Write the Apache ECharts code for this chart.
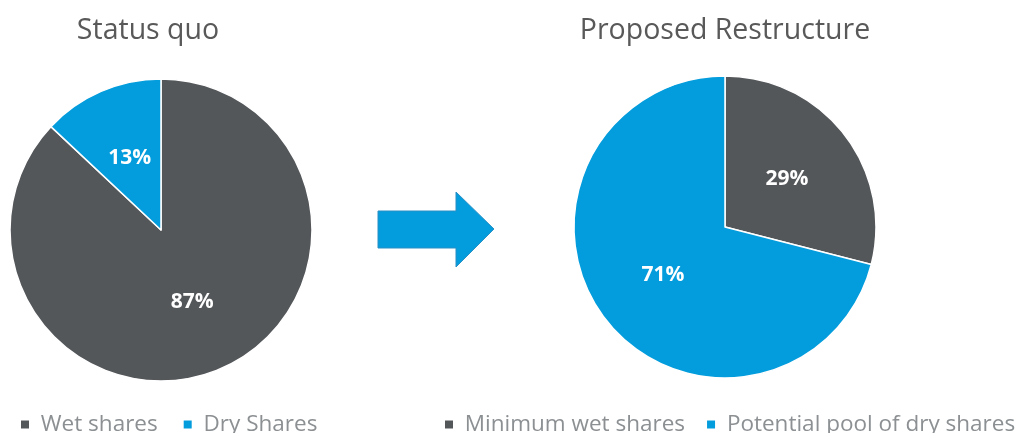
<!DOCTYPE html>
<html>
<head>
<meta charset="utf-8">
<script src="https://cdn.jsdelivr.net/npm/echarts@6/dist/echarts.min.js"></script>
<style>html,body{margin:0;padding:0;background:#fff}#c{width:1019px;height:433px}</style>
</head>
<body>
<div id="c"></div>
<script>
const leftTitle = 'Status quo';
const rightTitle = 'Proposed Restructure';
const leftCategories = ['Wet shares', 'Dry Shares'];
const leftValues = [87, 13];
const rightCategories = ['Minimum wet shares', 'Potential pool of dry shares'];
const rightValues = [29, 71];
const colors = ['#54575a', '#039cdc'];

const FONT = '"Open Sans", "Noto Sans", sans-serif';
const chart = echarts.init(document.getElementById('c'), null, {renderer: 'canvas'});

function pieData(cats, vals) {
  return cats.map((c, i) => ({name: c, value: vals[i], itemStyle: {color: colors[i]}}));
}
const labelStyle = {
  show: true, position: 'inside', formatter: '{c}%',
  color: '#ffffff', fontWeight: 'bold', fontSize: 21, fontFamily: FONT
};
const legendText = {color: '#8c9093', fontSize: 22.5, fontFamily: FONT};

chart.setOption({
  animation: false,
  title: [
    {text: leftTitle, left: 148, top: 16, padding: 0, textAlign: 'center',
     textStyle: {color: '#595959', fontSize: 28.5, fontWeight: 'normal', fontFamily: FONT}},
    {text: rightTitle, left: 725, top: 16, padding: 0, textAlign: 'center',
     textStyle: {color: '#595959', fontSize: 28.5, fontWeight: 'normal', fontFamily: FONT}}
  ],
  legend: [
    {data: leftCategories, left: 19, top: 413, padding: 0, icon: 'rect', itemWidth: 10, itemHeight: 10,
     itemGap: 24, textStyle: legendText, selectedMode: false, formatter: ' {name}'},
    {data: rightCategories, left: 443, top: 413, padding: 0, icon: 'rect', itemWidth: 10, itemHeight: 10,
     itemGap: 20, textStyle: legendText, selectedMode: false, formatter: ' {name}'}
  ],
  series: [
    {type: 'pie', center: [161, 230], radius: [0, 151], startAngle: 90, clockwise: true,
     data: pieData(leftCategories, leftValues), label: labelStyle, labelLine: {show: false},
     itemStyle: {borderColor: '#ffffff', borderWidth: 1.5}, emphasis: {disabled: true}},
    {type: 'pie', center: [725, 227], radius: [0, 151], startAngle: 90, clockwise: true,
     data: pieData(rightCategories, rightValues), label: labelStyle, labelLine: {show: false},
     itemStyle: {borderColor: '#ffffff', borderWidth: 1.5}, emphasis: {disabled: true}}
  ],
  graphic: [
    {type: 'polygon', shape: {points: [[378, 211], [456, 211], [456, 192], [494, 229], [456, 267], [456, 248], [378, 248]]},
     style: {fill: '#039cdc', stroke: '#2a8fc4', lineWidth: 1}}
  ]
});
</script>
</body>
</html>
